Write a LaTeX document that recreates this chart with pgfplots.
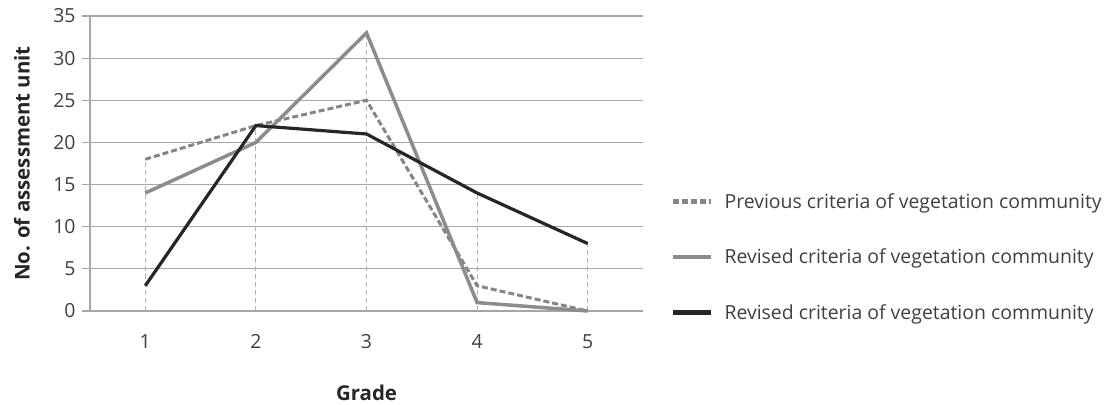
\documentclass[border=0pt]{standalone}
\usepackage{fontspec}
\setmainfont{Open Sans}
\usepackage{pgfplots}
\pgfplotsset{compat=1.18}
\definecolor{prevc}{HTML}{858585}
\definecolor{revc}{HTML}{8C8C8C}
\definecolor{blkc}{HTML}{262626}
\definecolor{gridc}{HTML}{A6A6A6}
\definecolor{dropc}{HTML}{B4B4B4}
\definecolor{tickc}{HTML}{404040}
\begin{document}
\begin{tikzpicture}
\path[use as bounding box] (-90bp,-94bp) rectangle (1014bp,311bp);
\begin{axis}[
  scale only axis, width=553bp, height=295bp,
  xmin=0.5, xmax=5.5, ymin=0, ymax=35,
  xtick={1,2,3,4,5}, ytick={0,5,...,35},
  axis x line*=bottom, axis y line*=left,
  axis line style={-, draw=gridc, line width=1.2bp},
  ymajorgrids, grid style={gridc, line width=1.2bp},
  xtick style={draw=none},
  ytick style={draw=gridc, line width=1.2bp},
  tick align=outside, major tick length=8bp,
  ticklabel style={font=\fontsize{19.5}{22}\selectfont, text=tickc},
  /pgf/number format/assume math mode=true,
  xticklabel style={yshift=-12bp},
  yticklabel style={xshift=-3bp},
  xlabel={\bfseries Grade},
  ylabel={\bfseries No. of assessment unit},
  label style={font=\fontsize{20.5}{24}\selectfont, text=blkc},
  xlabel style={at={(axis description cs:0.5,-0.278)}, anchor=center},
  ylabel style={at={(axis description cs:-0.123,0.5)}, anchor=center},
  clip=false,
  legend style={at={(axis description cs:1.045,0.183)}, anchor=west, draw=none, fill=none,
    row sep=35bp, column sep=9bp, font=\fontsize{19.5}{22}\selectfont, text=tickc, cells={anchor=west}},
  legend image code/.code={\draw[#1, line width=4.5bp] (0bp,0bp) -- (38bp,0bp);},
]
\addplot[ycomb, draw=dropc, line width=0.8bp, dash pattern=on 5bp off 3bp, forget plot]
  coordinates {(1,18)(2,22)(3,33)(4,14)(5,8)};
\addplot[prevc, line width=3bp, dash pattern=on 6bp off 3bp]
  coordinates {(1,18)(2,22)(3,25)(4,3)(5,0)};
\addlegendentry{Previous criteria of vegetation community}
\addplot[revc, line width=3.5bp]
  coordinates {(1,14)(2,20)(3,33)(4,1)(5,0)};
\addlegendentry{Revised criteria of vegetation community}
\addplot[blkc, line width=3.2bp]
  coordinates {(1,3)(2,22)(3,21)(4,14)(5,8)};
\addlegendentry{Revised criteria of vegetation community}
\end{axis}
\end{tikzpicture}
\end{document}
